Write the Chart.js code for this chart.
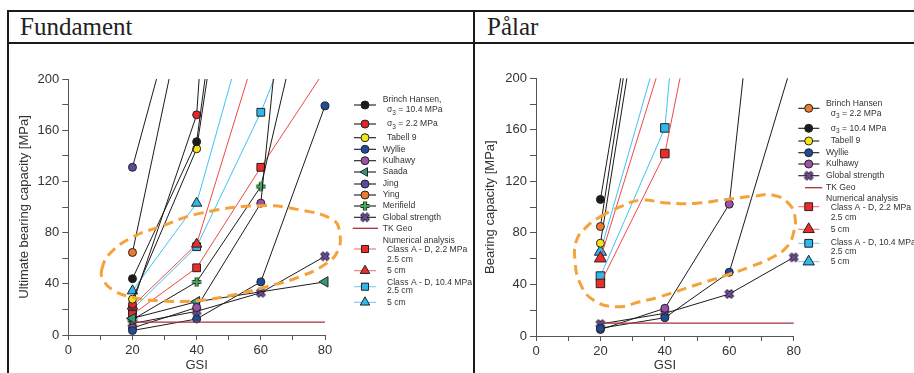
<!DOCTYPE html>
<html>
<head>
<meta charset="utf-8">
<script src="https://cdn.jsdelivr.net/npm/chart.js@4.4.1/dist/chart.umd.min.js"></script>
<style>
 body { margin:0; background:#fff; width:914px; height:373px; overflow:hidden; position:relative; }
 .bar { position:absolute; background:#1a1a1a; }
 .ttl { position:absolute; top:14px; font:25px/25px "Liberation Serif","Times New Roman",serif; color:#222; }
 canvas { position:absolute; }
</style>
</head>
<body>
<div class="bar" style="left:7px;top:10px;width:907px;height:2px"></div>
<div class="bar" style="left:7px;top:42px;width:907px;height:2px"></div>
<div class="bar" style="left:7px;top:10px;width:2px;height:363px"></div>
<div class="bar" style="left:473px;top:10px;width:2px;height:363px"></div>
<div class="ttl" style="left:20px">Fundament</div>
<div class="ttl" style="left:487px">Pålar</div>
<canvas id="fund" width="464" height="329" style="left:9px;top:44px"></canvas>
<canvas id="pale" width="439" height="329" style="left:475px;top:44px"></canvas>
<script>
var GSI = [20, 40, 60, 80];

// Fundament (values above 200 are where the line leaves the top of the plot)
var fBrinch104 = [44, 151, 527, null];
var fBrinch22 = [24, 172, 900, null];
var fTabell9 = [28, 145.5, 480, null];
var fWyllie = [3.5, 12.5, 41.5, 179];
var fKulhawy = [5.5, 21.5, 103, 600];
var fSaada = [13, 26, null, 41.5];
var fJing = [131, 315, null, null];
var fYing = [64.5, 302, null, null];
var fMerifield = [12, 41.5, 116, 330];
var fGlobal = [9, 18.5, 33, 61.5];
var fTkGeo = [10, 10, 10, 10];
var fNum22_25 = [16, 52.5, 131, 207];
var fNum22_5 = [22.5, 71, 234, null];
var fNum104_25 = [20, 69, 174, 300];
var fNum104_5 = [34.5, 103, 281, null];
// dashed orange ring drawn on the plot
var fRingGsi = [10.4, 13.0, 20.3, 28.6, 41, 59.7, 72.2, 82.6, 84.6, 84.1, 80.5, 72.2, 61.8, 51.4, 40, 28.6, 20.2, 14, 10.9];
var fRingVal = [50.8, 63.8, 76.8, 84.6, 95, 101, 97.7, 89.8, 79.4, 66.4, 56, 45.6, 37.7, 31.3, 26.8, 26.8, 29.4, 35, 43];

// Pålar
var pBrinch22 = [85, 409, null, null];
var pBrinch104 = [106, 404, null, null];
var pTabell9 = [72, 384, null, null];
var pWyllie = [6, 14.2, 49.5, 216];
var pKulhawy = [5, 21.5, 102.3, 560];
var pGlobal = [9.3, 17.6, 32.6, 61];
var pTkGeo = [10, 10, 10, 10];
var pNum22_25 = [40.8, 141.6, 390, null];
var pNum22_5 = [60.2, 222, null, null];
var pNum104_25 = [46.5, 161.5, 700, null];
var pNum104_5 = [65.4, 240, null, null];
var pRingGsi = [19.9, 26.1, 32.3, 40.6, 48.9, 59.2, 67.5, 73.7, 78.4, 80.4, 79.9, 77.9, 73.7, 66.5, 59.2, 48.9, 38.5, 32.3, 25.1, 17.8, 13.7, 12.1, 12.6, 15.7];
var pRingVal = [92.5, 100.2, 105.4, 103.3, 102.9, 106, 108.5, 109.3, 102.9, 92.5, 79.6, 69.2, 61.5, 53.7, 47.3, 39, 30.5, 26.6, 22.7, 27.9, 40.9, 58.9, 74.4, 84.7];

var FONT = '"Liberation Sans", Arial, sans-serif';
var INK = '#1b1b1b';

function markImage(kind, fill, edge) {
  var c = document.createElement('canvas');
  c.width = c.height = 12;
  var g = c.getContext('2d');
  function path() {
    g.beginPath();
    if (kind === 'x') {
      g.moveTo(2.5, 2.5); g.lineTo(9.5, 9.5);
      g.moveTo(9.5, 2.5); g.lineTo(2.5, 9.5);
    } else {
      g.moveTo(6, 1.5); g.lineTo(6, 10.5);
      g.moveTo(1.5, 6); g.lineTo(10.5, 6);
    }
  }
  path(); g.strokeStyle = edge; g.lineWidth = 4.2; g.stroke();
  path(); g.strokeStyle = fill; g.lineWidth = 2.2; g.stroke();
  return c;
}

var xMark = markImage('x', '#6d4f93', '#2a2038');
var plusMark = markImage('plus', '#48a85a', '#1c3a22');

function st(shape, fill, line, legendLine) {
  return { shape: shape, fill: fill, line: line, legendLine: legendLine || line };
}

var S = {
  black: st('circle', '#1c1c1c', INK),
  red: st('circle', '#e4262c', INK),
  orangeBh: st('circle', '#ee7a30', INK),
  yellow: st('circle', '#f3e41e', INK),
  wyllie: st('circle', '#1f4c99', INK),
  kulhawy: st('circle', '#9c52a8', INK),
  saada: st('triangle', '#2f9a74', INK),
  jing: st('circle', '#5a4b9e', INK),
  ying: st('circle', '#ee7b30', INK),
  merifield: st(plusMark, null, INK),
  global: st(xMark, null, INK),
  tk: st(null, null, '#a83040'),
  n22a: st('rect', '#ee2b2b', '#f04848', '#f27070'),
  n22b: st('triangle', '#ee2b2b', '#f04848', '#f27070'),
  n104a: st('rect', '#2fb8ec', '#3ec3f0', '#72d0f2'),
  n104b: st('triangle', '#2fb8ec', '#3ec3f0', '#72d0f2')
};
S.saada.rot = -90;

function series(vals, s, sizes) {
  var r = s.shape === 'rect' ? sizes.rect : s.shape === 'triangle' ? sizes.tri : sizes.circle;
  return {
    data: vals.map(function (v, i) { return { x: GSI[i], y: v }; }),
    borderColor: s.line,
    borderWidth: s.shape ? 1 : 1.3,
    backgroundColor: s.fill || s.line,
    pointBackgroundColor: s.fill,
    pointBorderColor: '#222',
    pointBorderWidth: 1,
    pointStyle: s.shape || 'circle',
    pointRotation: s.rot || 0,
    pointRadius: s.shape ? r : 0,
    spanGaps: true,
    tension: 0,
    clip: { left: 12, right: 12, top: 0, bottom: 12 },
    order: 2
  };
}

function ring(gx, gy) {
  var pts = gx.map(function (x, i) { return { x: x, y: gy[i] }; });
  var n = pts.length;
  var wrapped = [pts[n - 1]].concat(pts, [pts[0], pts[1]]);
  return {
    data: wrapped,
    borderColor: '#f5a23a',
    borderWidth: 3,
    borderDash: [10, 6],
    pointRadius: 0,
    tension: 0.45,
    capBezierPoints: false,
    clip: false,
    order: 1,
    segment: {
      borderColor: function (c) {
        return (c.p0DataIndex === 0 || c.p0DataIndex === n + 1) ? 'rgba(0,0,0,0)' : undefined;
      }
    }
  };
}

function drawMarker(ctx, s, x, y, r) {
  if (typeof s.shape !== 'string') {
    ctx.drawImage(s.shape, x - 6, y - 6);
    return;
  }
  ctx.save();
  ctx.fillStyle = s.fill;
  ctx.strokeStyle = '#222';
  ctx.lineWidth = 1;
  ctx.beginPath();
  if (s.shape === 'circle') {
    ctx.arc(x, y, r, 0, Math.PI * 2);
  } else if (s.shape === 'rect') {
    var h = r * Math.SQRT1_2;
    ctx.rect(x - h, y - h, 2 * h, 2 * h);
  } else {
    var a = (s.rot || 0) * Math.PI / 180;
    for (var k = 0; k < 3; k++) {
      var px = x + Math.sin(a) * r, py = y - Math.cos(a) * r;
      if (k === 0) ctx.moveTo(px, py); else ctx.lineTo(px, py);
      a += Math.PI * 2 / 3;
    }
    ctx.closePath();
  }
  ctx.fill();
  ctx.stroke();
  ctx.restore();
}

function drawLabel(ctx, str, x, y) {
  var parts = str.split('_3');
  if (parts.length === 1) { ctx.fillText(str, x, y); return; }
  ctx.fillText(parts[0], x, y);
  x += ctx.measureText(parts[0]).width;
  var f = ctx.font;
  ctx.font = '6.5px ' + FONT;
  ctx.fillText('3', x, y + 3);
  x += ctx.measureText('3').width;
  ctx.font = f;
  ctx.fillText(parts[1], x, y);
}

function sideLegend(items, lay) {
  return {
    id: 'sideLegend',
    afterDraw: function (chart) {
      var ctx = chart.ctx;
      ctx.save();
      ctx.font = '8.6px ' + FONT;
      ctx.textBaseline = 'middle';
      items.forEach(function (it) {
        if (it.s) {
          ctx.strokeStyle = it.s.legendLine;
          ctx.lineWidth = it.s.shape ? 1.1 : 1.3;
          ctx.beginPath();
          ctx.moveTo(it.x1 || lay.x1, it.y);
          ctx.lineTo(it.x2 || lay.x2, it.y);
          ctx.stroke();
          if (it.s.shape) drawMarker(ctx, it.s, lay.cx, it.y, it.r || lay.r);
        }
        ctx.fillStyle = '#333';
        it.text.forEach(function (t) {
          drawLabel(ctx, t[0], t[2] ? lay.tx2 : lay.tx, t[1]);
        });
      });
      ctx.restore();
    }
  };
}

function makeChart(id, datasets, yTitle, box, legendPlugin) {
  var axisFont = { family: FONT, size: 13 };
  return new Chart(document.getElementById(id), {
    type: 'line',
    data: { datasets: datasets },
    options: {
      responsive: false,
      animation: false,
      events: [],
      devicePixelRatio: 1,
      layout: { padding: { left: 0, top: box.top, right: box.right, bottom: 0 } },
      plugins: { legend: { display: false }, tooltip: { enabled: false } },
      scales: {
        x: {
          type: 'linear', min: 0, max: 80,
          ticks: {
            stepSize: 10, autoSkip: false, maxRotation: 0, color: '#333', font: axisFont, padding: 3,
            callback: function (v) { return v % 20 === 0 ? v : ''; }
          },
          grid: { drawOnChartArea: false, drawTicks: true, tickLength: 5, color: '#555' },
          border: { display: true, color: '#555', width: 1 },
          title: { display: true, text: 'GSI', color: '#333', font: axisFont, padding: { top: 0, bottom: 0 } },
          afterFit: function (s) { s.height = box.xh; }
        },
        y: {
          min: 0, max: 200,
          ticks: {
            stepSize: 20, color: '#333', font: axisFont, padding: 3,
            callback: function (v) { return v % 40 === 0 ? v : ''; }
          },
          grid: { drawOnChartArea: false, drawTicks: true, tickLength: 6, color: '#555' },
          border: { display: true, color: '#555', width: 1 },
          title: { display: true, text: yTitle, color: '#333', font: axisFont, padding: { top: 8, bottom: 0 } },
          afterFit: function (s) { s.width = box.yw; }
        }
      }
    },
    plugins: [legendPlugin]
  });
}

// Fundament chart
var fs = { circle: 4, rect: 5.5, tri: 6 };
makeChart('fund', [
  ring(fRingGsi, fRingVal),
  series(fTkGeo, S.tk, fs),
  series(fBrinch104, S.black, fs),
  series(fTabell9, S.yellow, fs),
  series(fBrinch22, S.red, fs),
  series(fJing, S.jing, fs),
  series(fYing, S.ying, fs),
  series(fWyllie, S.wyllie, fs),
  series(fKulhawy, S.kulhawy, fs),
  series(fSaada, S.saada, fs),
  series(fMerifield, S.merifield, fs),
  series(fGlobal, S.global, fs),
  series(fNum22_25, S.n22a, fs),
  series(fNum22_5, S.n22b, fs),
  series(fNum104_25, S.n104a, fs),
  series(fNum104_5, S.n104b, fs)
], 'Ultimate bearing capacity [MPa]', { top: 35, right: 148, xh: 38, yw: 59.3 },
  sideLegend([
    { s: S.black, y: 61, text: [['Brinch Hansen,', 56], ['σ_3 = 10.4 MPa', 66, 1]] },
    { s: S.red, y: 80, text: [['σ_3 = 2.2 MPa', 80, 1]] },
    { s: S.yellow, y: 93.7, text: [['Tabell 9', 93.7, 1]] },
    { s: S.wyllie, y: 105.3, text: [['Wyllie', 105.3]] },
    { s: S.kulhawy, y: 116.7, text: [['Kulhawy', 116.7]] },
    { s: S.saada, y: 128, r: 5, text: [['Saada', 128]] },
    { s: S.jing, y: 140, text: [['Jing', 140]] },
    { s: S.ying, y: 151, text: [['Ying', 151]] },
    { s: S.merifield, y: 162, text: [['Merifield', 162]] },
    { s: S.global, y: 173.3, text: [['Global strength', 173.3]] },
    { s: S.tk, y: 184.3, x1: 343.7, x2: 369, text: [['TK Geo', 184.3]] },
    { y: 197, text: [['Numerical analysis', 197]] },
    { s: S.n22a, y: 205, r: 5, text: [['Class A - D, 2.2 MPa', 206, 1], ['2.5 cm', 215.3, 1]] },
    { s: S.n22b, y: 226.7, r: 5.5, text: [['5 cm', 226.7, 1]] },
    { s: S.n104a, y: 242.7, r: 5, text: [['Class A - D, 10.4 MPa', 238.3, 1], ['2.5 cm', 246.7, 1]] },
    { s: S.n104b, y: 258.3, r: 5.5, text: [['5 cm', 258.3, 1]] }
  ], { cx: 356, x1: 345, x2: 367, tx: 373.7, tx2: 378, r: 4 })
);

// Pålar chart
var ps = { circle: 4, rect: 6, tri: 7 };
makeChart('pale', [
  ring(pRingGsi, pRingVal),
  series(pTkGeo, S.tk, ps),
  series(pBrinch104, S.black, ps),
  series(pBrinch22, S.orangeBh, ps),
  series(pTabell9, S.yellow, ps),
  series(pWyllie, S.wyllie, ps),
  series(pKulhawy, S.kulhawy, ps),
  series(pGlobal, S.global, ps),
  series(pNum22_25, S.n22a, ps),
  series(pNum104_25, S.n104a, ps),
  series(pNum22_5, S.n22b, ps),
  series(pNum104_5, S.n104b, ps)
], 'Bearing capacity [MPa]', { top: 34.3, right: 120.3, xh: 37, yw: 61 },
  sideLegend([
    { s: S.orangeBh, y: 64.3, text: [['Brinch Hansen', 59.3], ['σ_3 = 2.2 MPa', 69.3, 1]] },
    { s: S.black, y: 84.3, text: [['σ_3 = 10.4 MPa', 84.3, 1]] },
    { s: S.yellow, y: 97, text: [['Tabell 9', 97, 1]] },
    { s: S.wyllie, y: 108.7, text: [['Wyllie', 108.7]] },
    { s: S.kulhawy, y: 120, text: [['Kulhawy', 120]] },
    { s: S.global, y: 131.7, text: [['Global strength', 131.7]] },
    { s: S.tk, y: 143.7, x1: 330, x2: 347.3, text: [['TK Geo', 143.7]] },
    { y: 155, text: [['Numerical analysis', 155]] },
    { s: S.n22a, y: 162.7, r: 5.5, text: [['Class A - D, 2.2 MPa', 163.3, 1], ['2.5 cm', 173.3, 1]] },
    { s: S.n22b, y: 185.3, r: 6.5, text: [['5 cm', 185.3, 1]] },
    { s: S.n104a, y: 199.3, r: 5.5, text: [['Class A - D, 10.4 MPa', 198.3, 1], ['2.5 cm', 207.7, 1]] },
    { s: S.n104b, y: 217.7, r: 6.5, text: [['5 cm', 217.7, 1]] }
  ], { cx: 333.7, x1: 323.3, x2: 344.3, tx: 351, tx2: 355.7, r: 4 })
);
</script>
</body>
</html>
